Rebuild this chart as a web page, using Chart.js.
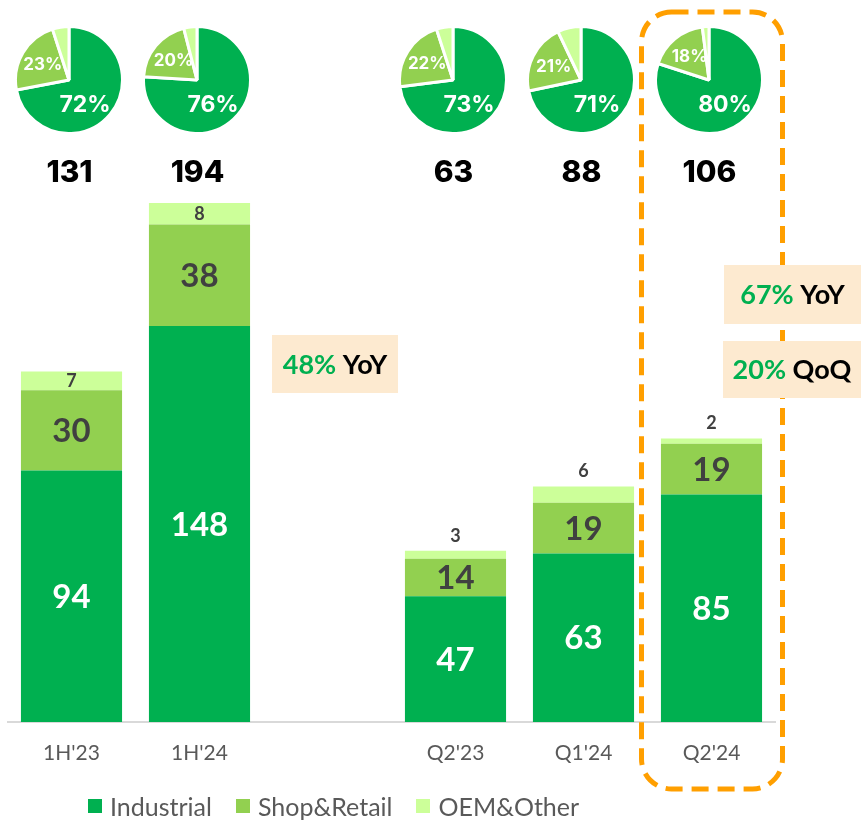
<!DOCTYPE html>
<html>
<head>
<meta charset="utf-8">
<script src="https://cdn.jsdelivr.net/npm/chart.js@4.4.0/dist/chart.umd.min.js"></script>
<style>
  body { margin: 0; background: #fff; }
  #wrap { position: relative; width: 861px; height: 823px; overflow: hidden; }
  #main { position: absolute; left: 0; top: 0; }
  .pie { position: absolute; }
  #legend { position: absolute; left: 88px; top: 791px; display: flex; align-items: center;
            font-family: Lato, sans-serif; font-size: 25px; color: #595959; }
  #legend .item { display: flex; align-items: center; margin-right: 24px; }
  #legend .box { width: 14px; height: 14px; margin-right: 8px; }
</style>
</head>
<body>
<div id="wrap">
  <canvas id="main" width="861" height="823"></canvas>
  <div id="legend"></div>
</div>
<script>
// revenue by segment (the empty category leaves the gap between halves and quarters)
const categories = ["1H'23", "1H'24", "", "Q2'23", "Q1'24", "Q2'24"];
const industrial = [94, 148, null, 47, 63, 85];
const shopRetail = [30, 38, null, 14, 19, 19];
const oemOther = [7, 8, null, 3, 6, 2];
const totals = [131, 194, null, 63, 88, 106];

// segment mix in percent, shown as small pies above each bar
const pieIndustrial = [72, 76, null, 73, 71, 80];
const pieShop = [23, 20, null, 22, 21, 18];
const pieOem = [5, 4, null, 5, 7, 2];

const seriesNames = ['Industrial', 'Shop&Retail', 'OEM&Other'];
const seriesColors = ['#00B050', '#92D050', '#CCFF99'];

const growthPct = ['48%', '67%', '20%'];
const growthKind = ['YoY', 'YoY', 'QoQ'];

const GREEN = '#00B050';

const barLabels = {
  id: 'barLabels',
  afterDatasetsDraw(chart) {
    const ctx = chart.ctx;
    ctx.save();
    ctx.textAlign = 'center';
    ctx.textBaseline = 'middle';
    chart.data.datasets.forEach((ds, di) => {
      chart.getDatasetMeta(di).data.forEach((bar, i) => {
        const v = ds.data[i];
        if (v == null) return;
        const h = bar.base - bar.y;
        if (di === 2) {
          ctx.font = 'bold 18px Lato';
          ctx.fillStyle = '#404040';
          ctx.fillText(v, bar.x, h >= 18 ? (bar.y + bar.base) / 2 : bar.y - 15);
        } else {
          ctx.font = 'bold 33px Lato';
          ctx.fillStyle = di === 0 ? '#fff' : '#404040';
          ctx.fillText(v, bar.x, (bar.y + bar.base) / 2 + 1);
        }
      });
    });
    const xs = chart.scales.x;
    ctx.font = '800 30px Inter';
    ctx.fillStyle = '#000';
    totals.forEach((t, i) => {
      if (t != null) ctx.fillText(t, xs.getPixelForValue(i) - 2, 173);
    });
    ctx.restore();
  }
};

function growthBox(ctx, x, y, w, h, pct, kind) {
  ctx.fillStyle = '#FDEAD0';
  ctx.fillRect(x, y, w, h);
  ctx.font = 'bold 27px Lato';
  ctx.textBaseline = 'middle';
  ctx.textAlign = 'left';
  const a = ctx.measureText(pct + ' ').width;
  const b = ctx.measureText(kind).width;
  const tx = x + (w - a - b) / 2;
  ctx.fillStyle = GREEN;
  ctx.fillText(pct, tx, y + h / 2 + 1);
  ctx.fillStyle = '#000';
  ctx.fillText(kind, tx + a, y + h / 2 + 1);
}

const decorations = {
  id: 'decorations',
  afterDraw(chart) {
    const ctx = chart.ctx;
    const xs = chart.scales.x;
    const q = xs.getPixelForValue(5);
    ctx.save();
    // highlight frame round the latest quarter
    ctx.setLineDash([17, 9]);
    ctx.lineWidth = 5;
    ctx.strokeStyle = '#FF9F00';
    ctx.beginPath();
    ctx.roundRect(q - 70, 12, 141, 777, 30);
    ctx.stroke();
    ctx.setLineDash([]);
    growthBox(ctx, 272, 335, 126, 58, growthPct[0], growthKind[0]);
    growthBox(ctx, 724, 265, 137, 59, growthPct[1], growthKind[1]);
    growthBox(ctx, 723, 341, 138, 57, growthPct[2], growthKind[2]);
    ctx.restore();
  }
};

const pieLabels = {
  id: 'pieLabels',
  afterDatasetsDraw(chart) {
    const ctx = chart.ctx;
    const arcs = chart.getDatasetMeta(0).data;
    const vals = chart.data.datasets[0].data;
    ctx.save();
    ctx.fillStyle = '#fff';
    ctx.textAlign = 'center';
    ctx.textBaseline = 'middle';
    const a0 = arcs[0];
    const r = a0.outerRadius;
    ctx.font = '700 23px Inter';
    ctx.fillText(vals[0] + '%', a0.x + 0.3 * r, a0.y + 0.47 * r);
    const a1 = arcs[1];
    const mid = (a1.startAngle + a1.endAngle) / 2;
    ctx.font = '700 17px Inter';
    ctx.fillText(vals[1] + '%', a1.x + Math.cos(mid) * 0.57 * r, a1.y + Math.sin(mid) * 0.57 * r);
    ctx.restore();
  }
};

function build() {
  const main = new Chart(document.getElementById('main'), {
    type: 'bar',
    data: {
      labels: categories,
      datasets: [industrial, shopRetail, oemOther].map((d, i) => ({
        label: seriesNames[i],
        data: d,
        backgroundColor: seriesColors[i],
        borderWidth: 0,
        categoryPercentage: 1,
        barPercentage: 0.79
      }))
    },
    options: {
      responsive: false,
      animation: false,
      devicePixelRatio: 1,
      events: [],
      layout: { padding: { top: 203, left: 7.5, right: 85.5, bottom: 57 } },
      plugins: { legend: { display: false }, tooltip: { enabled: false } },
      scales: {
        x: {
          stacked: true,
          grid: { display: false, drawTicks: false },
          border: { color: '#D9D9D9', width: 2 },
          ticks: { color: '#595959', font: { family: 'Lato', size: 21 }, padding: 19 },
          afterFit(s) { s.height = 44; }
        },
        y: { stacked: true, display: false, min: 0, max: 194 }
      }
    },
    plugins: [barLabels, decorations]
  });

  const xs = main.scales.x;
  const wrap = document.getElementById('wrap');
  categories.forEach((c, i) => {
    if (pieIndustrial[i] == null) return;
    const cv = document.createElement('canvas');
    cv.width = 110;
    cv.height = 110;
    cv.className = 'pie';
    cv.style.left = (xs.getPixelForValue(i) - 58) + 'px';
    cv.style.top = '25px';
    wrap.appendChild(cv);
    new Chart(cv, {
      type: 'pie',
      data: {
        labels: seriesNames,
        datasets: [{
          data: [pieIndustrial[i], pieShop[i], pieOem[i]],
          backgroundColor: seriesColors,
          borderColor: '#fff',
          borderWidth: 3
        }]
      },
      options: {
        responsive: false,
        animation: false,
        devicePixelRatio: 1,
        events: [],
        plugins: { legend: { display: false }, tooltip: { enabled: false } }
      },
      plugins: [pieLabels]
    });
  });

  const legend = document.getElementById('legend');
  seriesNames.forEach((n, i) => {
    const item = document.createElement('div');
    item.className = 'item';
    const box = document.createElement('div');
    box.className = 'box';
    box.style.background = seriesColors[i];
    const txt = document.createElement('span');
    txt.textContent = n;
    item.appendChild(box);
    item.appendChild(txt);
    legend.appendChild(item);
  });
}

Promise.all([
  document.fonts.load('bold 32px Lato'),
  document.fonts.load('20px Lato'),
  document.fonts.load('800 30px Inter'),
  document.fonts.load('700 22px Inter')
]).then(build, build);
</script>
</body>
</html>
